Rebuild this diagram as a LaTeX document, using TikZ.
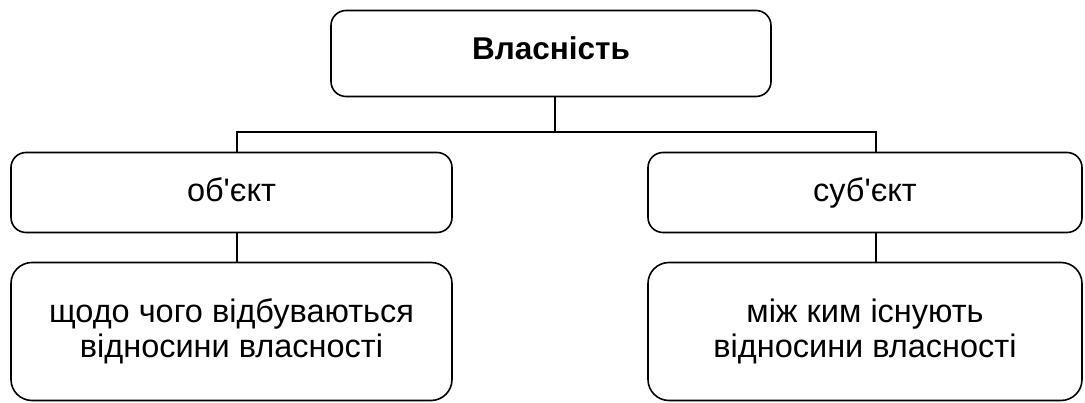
\documentclass[tikz,border=0pt]{standalone}
\usepackage{fontspec}
\setmainfont{Liberation Sans}[Ligatures=TeXOff]
\tikzset{
  box/.style={draw, line width=1.6pt, rounded corners=15pt, align=center,
    font=\fontsize{32.5}{35}\selectfont, inner sep=0pt},
  onebox/.style={box, text height=23pt, text depth=4pt},
  bigbox/.style={box, rounded corners=21pt},
  link/.style={line width=1.6pt}
}
\begin{document}
\begin{tikzpicture}[x=1pt,y=-1pt]
\useasboundingbox (0,0) rectangle (1085,403);
\node[box, font=\fontsize{31.5}{35}\selectfont\bfseries, text height=22pt, text depth=9pt,
  minimum width=440pt, minimum height=86pt] (prop) at (551,53.5) {Власність};
\node[onebox, minimum width=441pt, minimum height=80pt] (obj) at (231.5,192.5) {об'єкт};
\node[onebox, minimum width=434pt, minimum height=80pt] (subj) at (865,192.5) {суб'єкт};
\node[bigbox, minimum width=441pt, minimum height=138pt] (objd) at (231.5,331.5) {щодо чого відбуваються\\відносини власності};
\node[bigbox, minimum width=434pt, minimum height=138pt] (subjd) at (865,331.5) {між ким існують\\відносини власності};
% connectors
\coordinate (fork) at (555,132);
\draw[link] ([xshift=4pt]prop.south) -- (fork);
\draw[link] ([xshift=5.5pt]obj.north) |- (fork) -| ([xshift=11pt]subj.north);
\draw[link] ([xshift=5.5pt]obj.south) -- ([xshift=5.5pt]objd.north);
\draw[link] ([xshift=11pt]subj.south) -- ([xshift=11pt]subjd.north);
\end{tikzpicture}
\end{document}
